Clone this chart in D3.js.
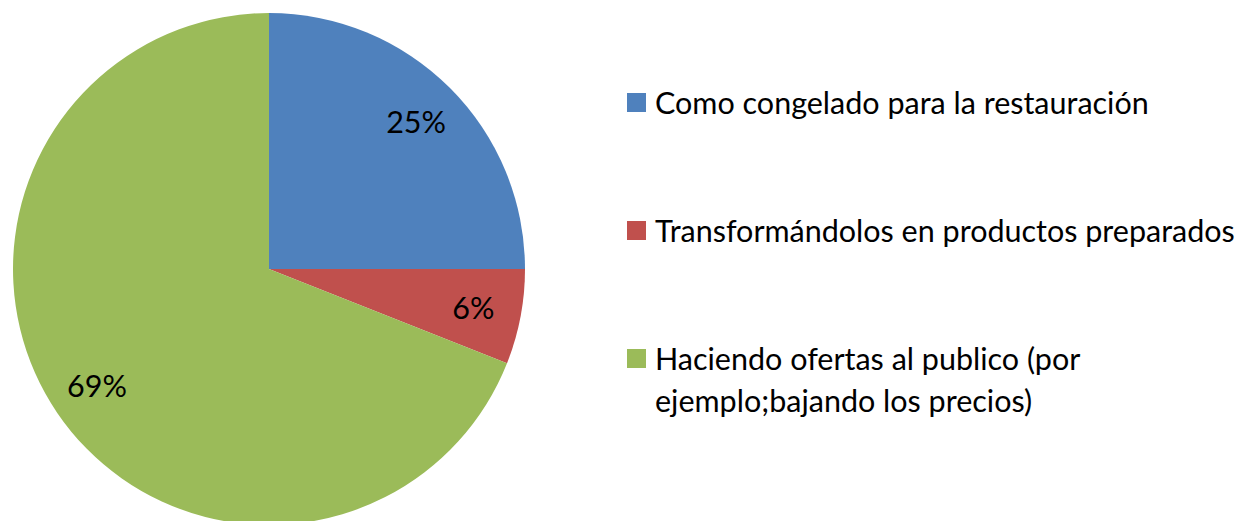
<!DOCTYPE html>
<html>
<head>
<meta charset="utf-8">
<script src="https://cdn.jsdelivr.net/npm/d3@7"></script>
<style>
  body { margin: 0; background: #fff; }
  svg text { font-family: Lato, "Open Sans", sans-serif; fill: #000; }
</style>
</head>
<body>
<svg id="canvas"></svg>
<script>
let categories = ['Como congelado para la restauración', 'Transformándolos en productos preparados', 'Haciendo ofertas al publico (por ejemplo;bajando los precios)']
let legendLines = [['Como congelado para la restauración'], ['Transformándolos en productos preparados'], ['Haciendo ofertas al publico (por', 'ejemplo;bajando los precios)']]
let values = [25, 6, 69]
let labels = ['25%', '6%', '69%']
let colors = ['#4F81BD', '#C0504D', '#9BBB59']

let width = 1243
let height = 521
let cx = 269
let cy = 269
let radius = 256
let fontSize = 30.5

let canvas = d3.select('#canvas')
               .attr('width', width)
               .attr('height', height)

let color = d3.scaleOrdinal()
              .domain(categories)
              .range(colors)

let pie = d3.pie()
            .sort(null)
            .value((d, i) => values[i])

let arcs = pie(categories)

let arc = d3.arc()
            .innerRadius(0)
            .outerRadius(radius)

let labelArc = d3.arc()
                 .innerRadius(208)
                 .outerRadius(208)

let g = canvas.append('g')
              .attr('transform', `translate(${cx}, ${cy})`)

g.selectAll('path')
 .data(arcs)
 .enter()
 .append('path')
 .attr('d', arc)
 .attr('fill', (d) => color(d.data))

g.selectAll('text')
 .data(arcs)
 .enter()
 .append('text')
 .attr('transform', (d) => `translate(${labelArc.centroid(d)})`)
 .attr('text-anchor', 'middle')
 .attr('dy', '0.35em')
 .style('font-size', fontSize + 'px')
 .text((d, i) => labels[i])

// legend rows
let legendY = d3.scalePoint()
                .domain(categories)
                .range([103, 359])

let legend = canvas.append('g')
                   .attr('transform', 'translate(627, 0)')

let rows = legend.selectAll('g')
                 .data(categories)
                 .enter()
                 .append('g')
                 .attr('transform', (d) => `translate(0, ${legendY(d)})`)

rows.append('rect')
    .attr('x', 0)
    .attr('y', -10)
    .attr('width', 19)
    .attr('height', 19)
    .attr('fill', (d) => color(d))

rows.append('text')
    .attr('x', 28)
    .attr('y', 11)
    .style('font-size', fontSize + 'px')
    .selectAll('tspan')
    .data((d, i) => legendLines[i])
    .enter()
    .append('tspan')
    .attr('x', 28)
    .attr('dy', (d, i) => i === 0 ? 0 : 42)
    .text((d) => d)
</script>
</body>
</html>
